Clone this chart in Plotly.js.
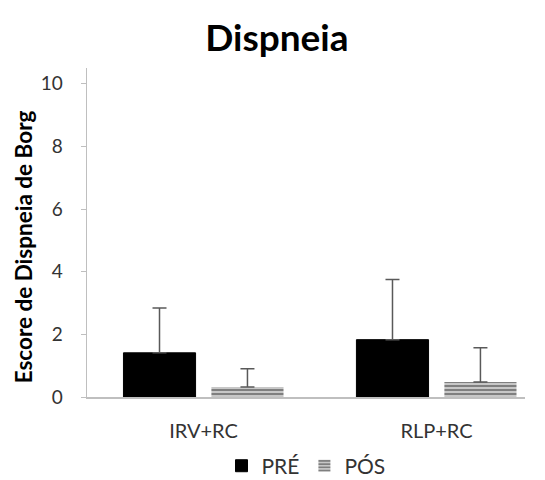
<!DOCTYPE html>
<html>
<head>
<meta charset="utf-8">
<script src="https://cdn.plot.ly/plotly-3.0.1.min.js"></script>
<style>html,body{margin:0;padding:0;background:#fff;}#chart{width:545px;height:480px;}</style>
</head>
<body>
<div id="chart"></div>
<script>
const categories = ["IRV+RC", "RLP+RC"];
const preValues = [1.41, 1.83];
const preErrors = [1.43, 1.92];
const posValues = [0.32, 0.48];
const posErrors = [0.58, 1.09];
const yAxisTitle = "Escore de Dispneia de Borg";

const traces = [
  {
    type: "bar", name: "PRÉ", x: categories, y: preValues,
    marker: {color: "#000000", line: {color: "#000000", width: 1}},
    error_y: {type: "data", array: preErrors, arrayminus: preErrors.map(() => 0), symmetric: false, color: "#595959", thickness: 1.5, width: 7}
  },
  {
    type: "bar", name: "PÓS", x: categories, y: posValues,
    marker: {color: "#ffffff", line: {width: 0},
      pattern: {shape: "-", fgcolor: "#000000", bgcolor: "#ffffff", size: 4, solidity: 0.72, fillmode: "overlay"}},
    error_y: {type: "data", array: posErrors, arrayminus: posErrors.map(() => 0), symmetric: false, color: "#595959", thickness: 1.5, width: 7}
  }
];

const layout = {
  width: 545, height: 480,
  margin: {l: 87, r: 20, t: 68, b: 83, autoexpand: false},
  paper_bgcolor: "#ffffff", plot_bgcolor: "#ffffff",
  font: {family: "Lato, 'Open Sans', sans-serif", color: "#333333", size: 14},
  title: {text: "<b>Dispneia</b>", x: 0.508, xref: "container", xanchor: "center", yref: "container", y: 0.92, yanchor: "middle",
    font: {size: 37, color: "#000000", family: "Lato, 'Open Sans', sans-serif"}},
  barmode: "group", bargap: 0.245, bargroupgap: 0.18,
  xaxis: {range: [-0.5, 1.38], showline: true, linecolor: "#bfbfbf", linewidth: 1.5, ticks: "", showgrid: false,
    ticklabelstandoff: 15, tickfont: {size: 20, color: "#333333"}, fixedrange: true},
  yaxis: {range: [0, 10.5], tickvals: [0, 2, 4, 6, 8, 10], showline: true, linecolor: "#bfbfbf", linewidth: 1.5,
    ticks: "outside", ticklen: 5, tickcolor: "#bfbfbf", showgrid: false, zeroline: false,
    ticklabelstandoff: 14, tickfont: {size: 19, color: "#333333"}},
  annotations: [{
    text: "<b>" + yAxisTitle + "</b>", textangle: -90, showarrow: false,
    xref: "paper", yref: "paper", x: -0.146, y: 0.455, xanchor: "center", yanchor: "middle",
    font: {size: 22.5, color: "#000000", family: "Lato, 'Open Sans', sans-serif"}
  }],
  legend: {orientation: "h", x: 0.5, xanchor: "center", xref: "paper", yref: "container", y: 0.029, yanchor: "middle",
    font: {size: 21, color: "#333333"}, itemwidth: 30, traceorder: "normal"},
  showlegend: true
};

Plotly.newPlot("chart", traces, layout, {displayModeBar: false, staticPlot: true});
</script>
</body>
</html>
